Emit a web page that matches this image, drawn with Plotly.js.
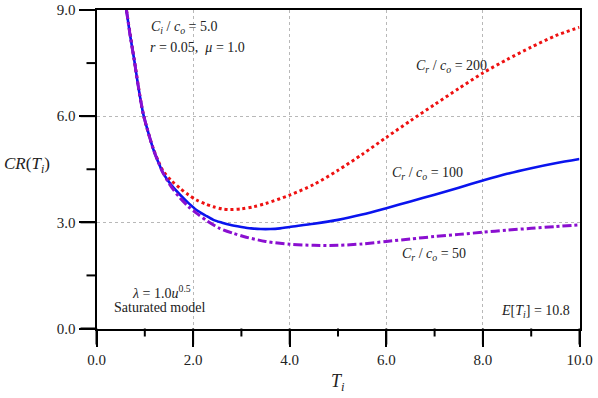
<!DOCTYPE html>
<html><head><meta charset="utf-8">
<script src="https://cdn.plot.ly/plotly-3.0.1.min.js"></script>
<style>
html,body{margin:0;padding:0;background:#fff}#c{width:598px;height:398px}
</style>
</head><body><div id="c"></div>
<script>
const x200 = [0.62, 0.78, 0.97, 1.18, 1.38, 1.55, 1.73, 1.9, 2.07, 2.25, 2.42, 2.6, 2.76, 3.0, 3.25, 3.5, 4.0, 4.5, 5.0, 5.5, 6.0, 6.5, 7.0, 7.5, 8.0, 8.5, 9.0, 9.5, 10.0];
const y200 = [9.0, 7.6, 6.05, 5.07, 4.45, 4.18, 3.96, 3.78, 3.63, 3.52, 3.44, 3.38, 3.36, 3.38, 3.44, 3.53, 3.77, 4.07, 4.47, 4.92, 5.4, 5.87, 6.33, 6.78, 7.22, 7.6, 7.95, 8.27, 8.51];
const x100 = [0.62, 0.7, 0.78, 0.87, 0.97, 1.08, 1.18, 1.28, 1.38, 1.55, 1.73, 1.9, 2.07, 2.25, 2.42, 2.6, 2.76, 3.0, 3.2, 3.4, 3.6, 3.8, 4.0, 4.5, 5.0, 5.5, 6.0, 6.5, 7.0, 7.5, 8.0, 8.5, 9.0, 9.5, 10.0];
const y100 = [9.0, 8.25, 7.6, 6.8, 6.05, 5.5, 5.05, 4.7, 4.39, 4.05, 3.78, 3.55, 3.35, 3.2, 3.07, 2.99, 2.93, 2.87, 2.83, 2.81, 2.81, 2.83, 2.87, 2.96, 3.07, 3.22, 3.40, 3.59, 3.78, 3.98, 4.18, 4.37, 4.53, 4.67, 4.79];
const x50 = [0.62, 0.7, 0.78, 0.87, 0.97, 1.08, 1.18, 1.28, 1.38, 1.55, 1.73, 1.9, 2.07, 2.3, 2.55, 2.83, 3.1, 3.5, 4.0, 4.5, 5.0, 5.5, 6.0, 6.5, 7.0, 7.5, 8.0, 8.5, 9.0, 9.5, 10.0];
const y50 = [9.0, 8.25, 7.6, 6.8, 6.05, 5.5, 5.05, 4.7, 4.39, 4.0, 3.69, 3.45, 3.26, 3.03, 2.83, 2.69, 2.58, 2.46, 2.38, 2.35, 2.35, 2.39, 2.46, 2.53, 2.6, 2.66, 2.72, 2.78, 2.83, 2.88, 2.93];
const xMajor = [0, 2, 4, 6, 8, 10];
const xMinor = [1, 3, 5, 7, 9];
const yMajor = [0, 3, 6, 9];
const yMinor = [1.5, 4.5, 7.5];
const xRange = [0, 10];
const yRange = [0, 9];

// figure geometry (pixels)
const W = 598, H = 398, L = 96.5, R = 18.5, T = 10, B = 69.5;
const pxX = (W - L - R) / (xRange[1] - xRange[0]);
const pxY = (H - T - B) / (yRange[1] - yRange[0]);

const serif = "'Liberation Serif', 'Times New Roman', serif";

// tick-mark segments on a full-figure overlay axis pair that shares the data scale
function xTickSeg(vals, len) {
  const xs = [], ys = [];
  vals.forEach(v => { xs.push(v, v, null); ys.push(yRange[0], yRange[0] - len / pxY, null); });
  return {xs, ys};
}
function yTickSeg(vals, len) {
  const xs = [], ys = [];
  vals.forEach(v => { xs.push(xRange[0], xRange[0] - len / pxX, null); ys.push(v, v, null); });
  return {xs, ys};
}
const segs = [xTickSeg(xMajor, 16), xTickSeg(xMinor, 8), yTickSeg(yMajor, 16), yTickSeg(yMinor, 10)];
const tickX = [].concat(...segs.map(s => s.xs));
const tickY = [].concat(...segs.map(s => s.ys));

const traces = [
  {x: x200, y: y200, mode: 'lines', line: {color: '#ee1111', width: 3, dash: 'dot', shape: 'spline', smoothing: 0.8}},
  {x: x100, y: y100, mode: 'lines', line: {color: '#0a14ee', width: 2.6, shape: 'spline', smoothing: 0.8}},
  {x: x50, y: y50, mode: 'lines', line: {color: '#8a0fd0', width: 3, dash: 'dashdot', shape: 'spline', smoothing: 0.8}},
  {x: tickX, y: tickY, xaxis: 'x2', yaxis: 'y2', mode: 'lines', line: {color: '#000', width: 2}, connectgaps: false, hoverinfo: 'skip'}
];
const ann = (text, x, y, xa) => ({text, x, y, xref: 'x', yref: 'y', xanchor: xa, yanchor: 'middle', showarrow: false, font: {family: serif, size: 14, color: '#222'}});

const layout = {
  width: W, height: H,
  margin: {l: 0, r: 0, t: 0, b: 0, pad: 0},
  paper_bgcolor: '#fff', plot_bgcolor: 'rgba(0,0,0,0)',
  showlegend: false,
  xaxis: {
    domain: [L / W, 1 - R / W], anchor: 'y',
    range: xRange, tickvals: xMajor, tickformat: '.1f',
    ticks: 'outside', ticklen: 16, tickwidth: 2, tickcolor: '#000',
    showline: true, linecolor: '#000', linewidth: 2, mirror: true,
    showgrid: true, gridcolor: '#b8b8b8', griddash: 'dot', gridwidth: 1,
    zeroline: false, tickfont: {family: serif, size: 15, color: '#222'}
  },
  yaxis: {
    domain: [B / H, 1 - T / H], anchor: 'x',
    range: yRange, tickvals: yMajor, tickformat: '.1f',
    ticks: 'outside', ticklen: 16, tickwidth: 2, tickcolor: '#000',
    showline: true, linecolor: '#000', linewidth: 2, mirror: true,
    showgrid: true, gridcolor: '#b8b8b8', griddash: 'dot', gridwidth: 1,
    zeroline: false, tickfont: {family: serif, size: 15, color: '#222'}
  },
  xaxis2: {
    domain: [0, 1], anchor: 'y2',
    range: [xRange[0] - L / pxX, xRange[1] + R / pxX],
    visible: false, fixedrange: true
  },
  yaxis2: {
    domain: [0, 1], anchor: 'x2',
    range: [yRange[0] - B / pxY, yRange[1] + T / pxY],
    visible: false, fixedrange: true
  },
  annotations: [
    ann('<i>C</i><sub><i>i</i></sub> / <i>c</i><sub><i>o</i></sub> = 5.0', 1.09, 8.5, 'left'),
    ann('<i>r</i> = 0.05,  <i>μ</i> = 1.0', 1.07, 7.94, 'left'),
    ann('<i>C</i><sub><i>r</i></sub> / <i>c</i><sub><i>o</i></sub> = 200', 6.57, 7.4, 'left'),
    ann('<i>C</i><sub><i>r</i></sub> / <i>c</i><sub><i>o</i></sub> = 100', 6.07, 4.37, 'left'),
    ann('<i>C</i><sub><i>r</i></sub> / <i>c</i><sub><i>o</i></sub> = 50', 6.28, 2.1, 'left'),
    ann('<i>λ</i> = 1.0<i>u</i><sup>0.5</sup>', 1.34, 1.03, 'center'),
    ann('Saturated model', 1.31, 0.58, 'center'),
    ann('<i>E</i>[<i>T</i><sub><i>i</i></sub>] = 10.8', 9.84, 0.49, 'right'),
    {text: '<i>CR</i>(<i>T</i><sub><i>i</i></sub>)', xref: 'paper', yref: 'paper', x: 27 / W, y: 1 - 165 / H, xanchor: 'center', yanchor: 'middle', showarrow: false, font: {family: serif, size: 17, color: '#222'}},
    {text: '<i>T</i><sub><i>i</i></sub>', xref: 'paper', yref: 'paper', x: 338 / W, y: 1 - 382 / H, xanchor: 'center', yanchor: 'middle', showarrow: false, font: {family: serif, size: 18, color: '#222'}}
  ]
};
Plotly.newPlot('c', traces, layout, {staticPlot: true, displayModeBar: false});
</script></body></html>
